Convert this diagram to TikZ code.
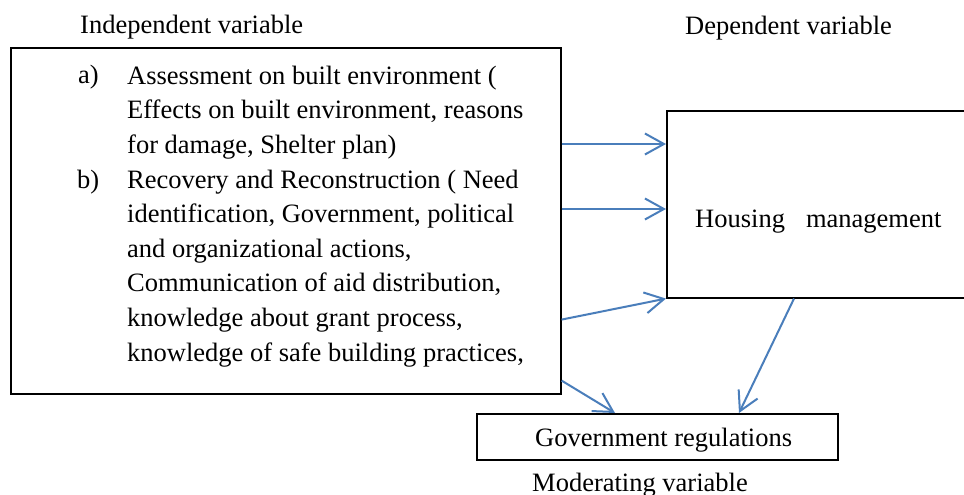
\documentclass[tikz,border=0pt]{standalone}
\usepackage{fontspec}
\setmainfont{Liberation Serif}
\usepackage{xcolor}
\usetikzlibrary{arrows.meta}

\definecolor{linkblue}{RGB}{74,126,187}

\tikzset{
  label/.style={anchor=base west, inner sep=0pt, font=\fontsize{26.5}{34.6}\selectfont},
  listtext/.style={label, align=left},
  varbox/.style={draw=black, line width=1.6pt, anchor=north west, inner sep=0pt},
  link/.style={draw=linkblue, line width=2pt, -{Straight Barb[length=19pt, width=21pt, line width=2pt]}}
}

\begin{document}
\begin{tikzpicture}[x=1pt, y=-1pt]
  % Page frame (the housing box runs past the right edge)
  \clip (0,0) rectangle (964,495);
  \fill[white] (0,0) rectangle (964,495);

  % Headings
  \node[label] (indeptitle) at (80,34) {Independent variable};
  \node[label] (deptitle) at (685,35) {Dependent variable};

  % Independent variable box with its two items
  % (a multi-line node sits on the baseline of its last line)
  \node[varbox, minimum width=550pt, minimum height=346pt] (indep) at (10,47) {};
  \node[label] (itema) at (78,84) {a)};
  \node[listtext] (texta) at (127,153.2) {Assessment on built environment (\\
    Effects on built environment, reasons\\
    for damage, Shelter plan)};
  \node[label] (itemb) at (77,188) {b)};
  \node[listtext] (textb) at (127,361) {Recovery and Reconstruction ( Need\\
    identification, Government, political\\
    and organizational actions,\\
    Communication of aid distribution,\\
    knowledge about grant process,\\
    knowledge of safe building practices,};

  % Dependent variable box
  \node[varbox, minimum width=320pt, minimum height=187pt] (housing) at (666,110) {};
  \node[label] (housingtext) at (695,227) {Housing\hspace{21pt}management};

  % Moderating variable box
  \node[varbox, minimum width=361pt, minimum height=46pt] (govt) at (476,413) {};
  \node[label] (govttext) at (535,446) {Government regulations};
  \node[label] (modtitle) at (532,491) {Moderating variable};

  % Links
  \draw[link] ([yshift=-97pt]indep.north east) -- ([yshift=-34pt]housing.north west);
  \draw[link] ([yshift=-162pt]indep.north east) -- ([yshift=-99pt]housing.north west);
  \draw[link] ([yshift=75pt]indep.south east) -- (housing.south west);
  \draw[link] ([yshift=14pt]indep.south east) -- ([xshift=139pt]govt.north west);
  \draw[link] ([xshift=128pt]housing.south west) -- ([xshift=263pt]govt.north west);
\end{tikzpicture}
\end{document}
